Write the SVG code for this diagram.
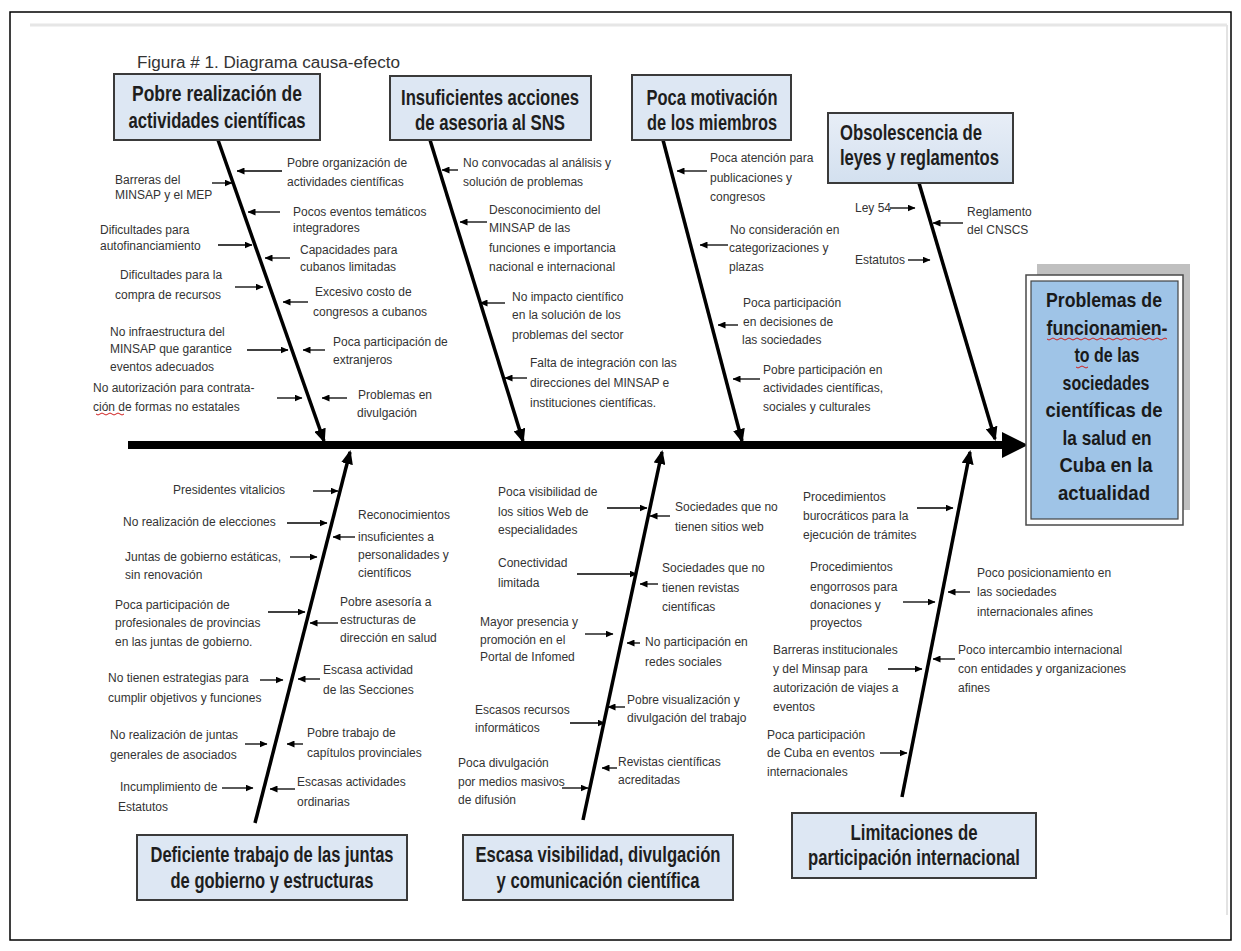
<svg xmlns="http://www.w3.org/2000/svg" width="1241" height="951" viewBox="0 0 1241 951">
<defs>
<style>
.box{fill:#dde7f3;stroke:#3a3a3a;stroke-width:2}
.bt{font-family:"Liberation Sans",Arial,sans-serif;font-weight:bold;font-size:22px;fill:#1e1e1e;text-anchor:middle}
.et{font-family:"Liberation Sans",Arial,sans-serif;font-weight:bold;font-size:21px;fill:#1a1a1a;text-anchor:middle}
.t{font-family:"Liberation Sans",Arial,sans-serif;font-size:12px;fill:#333}
.bone{stroke:#000;stroke-width:3.5;fill:none;marker-end:url(#bh)}
.sa{stroke:#000;stroke-width:1.3;fill:none;marker-end:url(#sh)}
.sq{stroke:#d02020;stroke-width:1;fill:none}
</style>
<marker id="bh" markerUnits="userSpaceOnUse" markerWidth="14" markerHeight="12" refX="12" refY="6" orient="auto"><path d="M0,0 L14,6 L0,12 z" fill="#000"/></marker>
<marker id="sh" markerUnits="userSpaceOnUse" markerWidth="8" markerHeight="7" refX="7.5" refY="3.5" orient="auto"><path d="M0,0 L8,3.5 L0,7 z" fill="#000"/></marker>
<linearGradient id="g4" x1="0" y1="0" x2="0" y2="1"><stop offset="0" stop-color="#e8eef7"/><stop offset="1" stop-color="#d3e0ef"/></linearGradient>
</defs>
<rect x="0" y="0" width="1241" height="951" fill="#fff"/>
<rect x="10" y="12" width="1221" height="928" fill="none" stroke="#000" stroke-width="1.5"/>
<line x1="30" y1="25" x2="1227" y2="25" stroke="#e6e6e6" stroke-width="3"/>
<line x1="1227" y1="25" x2="1227" y2="915" stroke="#e3e3e3" stroke-width="2"/>
<text x="137" y="68" font-family="Liberation Sans, Arial, sans-serif" font-size="16" fill="#333" textLength="263" lengthAdjust="spacingAndGlyphs">Figura # 1. Diagrama causa-efecto</text>

<g id="connectors">
<line x1="128" y1="445" x2="1004" y2="445" stroke="#000" stroke-width="8"/>
<polygon points="1002,432 1028,445 1002,458" fill="#000"/>
<line class="bone" x1="218" y1="140" x2="324" y2="441"/>
<line class="bone" x1="430" y1="140" x2="523" y2="441"/>
<line class="bone" x1="663" y1="140" x2="742" y2="441"/>
<line class="bone" x1="919" y1="183" x2="995" y2="439"/>
<line class="bone" x1="255" y1="823" x2="350" y2="452"/>
<line class="bone" x1="583" y1="820" x2="662" y2="452"/>
<line class="bone" x1="902" y1="797" x2="970" y2="452"/>
</g>

<g id="node-box1">
<rect class="box" x="114" y="74" width="206" height="66"/>
<text class="bt" x="217" y="101" textLength="170" lengthAdjust="spacingAndGlyphs">Pobre realización de</text>
<text class="bt" x="217" y="128" textLength="177" lengthAdjust="spacingAndGlyphs">actividades científicas</text>
</g>
<g id="node-box2">
<rect class="box" x="390" y="76" width="201" height="64"/>
<text class="bt" x="490" y="105" textLength="178" lengthAdjust="spacingAndGlyphs">Insuficientes acciones</text>
<text class="bt" x="490" y="130" textLength="150" lengthAdjust="spacingAndGlyphs">de asesoria al SNS</text>
</g>
<g id="node-box3">
<rect class="box" x="632" y="75" width="159" height="65"/>
<text class="bt" x="712" y="105" textLength="131" lengthAdjust="spacingAndGlyphs">Poca motivación</text>
<text class="bt" x="712" y="130" textLength="130" lengthAdjust="spacingAndGlyphs">de los miembros</text>
</g>
<g id="node-box4">
<rect x="828" y="113" width="185" height="70" fill="url(#g4)" stroke="#3a3a3a" stroke-width="2"/>
<text class="bt" x="840" y="140" text-anchor="start" style="text-anchor:start" textLength="142" lengthAdjust="spacingAndGlyphs">Obsolescencia de</text>
<text class="bt" x="840" y="165" style="text-anchor:start" textLength="159" lengthAdjust="spacingAndGlyphs">leyes y reglamentos</text>
</g>
<g id="node-effect">
<rect x="1037" y="264" width="153" height="246" fill="#c0c0c0"/>
<rect x="1026" y="275" width="157" height="250" fill="#fff" stroke="#4a4a4a" stroke-width="1.5"/>
<rect x="1031" y="281" width="147" height="238" fill="#9fc4e7" stroke="#444" stroke-width="1.2"/>
<text class="et" x="1104" y="307" textLength="116" lengthAdjust="spacingAndGlyphs">Problemas de</text>
<text class="et" x="1107" y="335" textLength="121" lengthAdjust="spacingAndGlyphs">funcionamien-</text>
<text class="et" x="1107" y="362" textLength="65" lengthAdjust="spacingAndGlyphs">to de las</text>
<text class="et" x="1106" y="390" textLength="87" lengthAdjust="spacingAndGlyphs">sociedades</text>
<text class="et" x="1104" y="417" textLength="117" lengthAdjust="spacingAndGlyphs">científicas de</text>
<text class="et" x="1107" y="445" textLength="89" lengthAdjust="spacingAndGlyphs">la salud en</text>
<text class="et" x="1106" y="472" textLength="93" lengthAdjust="spacingAndGlyphs">Cuba en la</text>
<text class="et" x="1104" y="500" textLength="92" lengthAdjust="spacingAndGlyphs">actualidad</text>
<path class="sq" d="M1047,339 q2,2 4,0 t4,0 t4,0 t4,0 t4,0 t4,0 t4,0 t4,0 t4,0 t4,0 t4,0 t4,0 t4,0 t4,0 t4,0 t4,0 t4,0 t4,0 t4,0 t4,0 t4,0 t4,0 t4,0 t4,0 t4,0 t4,0 t4,0 t4,0 t4,0 t4,0"/>
<path class="sq" d="M1076,367 q2,2 4,0 t4,0 t4,0"/>
</g>
<g id="node-box5">
<rect class="box" x="137" y="835" width="270" height="65"/>
<text class="bt" x="272" y="862" textLength="243" lengthAdjust="spacingAndGlyphs">Deficiente trabajo de las juntas</text>
<text class="bt" x="272" y="888" textLength="203" lengthAdjust="spacingAndGlyphs">de gobierno y estructuras</text>
</g>
<g id="node-box6">
<rect class="box" x="463" y="835" width="270" height="65"/>
<text class="bt" x="598" y="862" textLength="245" lengthAdjust="spacingAndGlyphs">Escasa visibilidad, divulgación</text>
<text class="bt" x="598" y="888" textLength="203" lengthAdjust="spacingAndGlyphs">y comunicación científica</text>
</g>
<g id="node-box7">
<rect class="box" x="792" y="813" width="244" height="65"/>
<text class="bt" x="914" y="840" textLength="127" lengthAdjust="spacingAndGlyphs">Limitaciones de</text>
<text class="bt" x="914" y="865" textLength="212" lengthAdjust="spacingAndGlyphs">participación internacional</text>
</g>

<g id="causes-1">
<text class="t"><tspan x="115" y="184">Barreras del</tspan><tspan x="115" y="199">MINSAP y el MEP</tspan></text>
<line class="sa" x1="212" y1="183" x2="232" y2="183"/>
<text class="t"><tspan x="100" y="234">Dificultades para</tspan><tspan x="100" y="250">autofinanciamiento</tspan></text>
<line class="sa" x1="218" y1="245" x2="252" y2="245"/>
<text class="t"><tspan x="120" y="279">Dificultades para la</tspan><tspan x="115" y="299">compra de recursos</tspan></text>
<line class="sa" x1="235" y1="287" x2="263" y2="287"/>
<text class="t"><tspan x="110" y="336">No infraestructura del</tspan><tspan x="110" y="353">MINSAP que garantice</tspan><tspan x="110" y="371">eventos adecuados</tspan></text>
<line class="sa" x1="247" y1="350" x2="288" y2="350"/>
<text class="t"><tspan x="93" y="392">No autorización para contrata-</tspan><tspan x="93" y="411">ción de formas no estatales</tspan></text>
<path class="sq" d="M96,414 q2,2 4,0 t4,0 t4,0 t4,0 t4,0 t4,0 t4,0"/>
<line class="sa" x1="277" y1="398" x2="302" y2="398"/>
<text class="t"><tspan x="287" y="167">Pobre organización de</tspan><tspan x="287" y="186">actividades científicas</tspan></text>
<line class="sa" x1="282" y1="171" x2="237" y2="171"/>
<text class="t"><tspan x="293" y="216">Pocos eventos temáticos</tspan><tspan x="293" y="232">integradores</tspan></text>
<line class="sa" x1="280" y1="212" x2="248" y2="212"/>
<text class="t"><tspan x="300" y="254">Capacidades para</tspan><tspan x="300" y="271">cubanos limitadas</tspan></text>
<line class="sa" x1="290" y1="258" x2="265" y2="258"/>
<text class="t"><tspan x="315" y="296">Excesivo costo de</tspan><tspan x="313" y="316">congresos a cubanos</tspan></text>
<line class="sa" x1="308" y1="302" x2="283" y2="302"/>
<text class="t"><tspan x="333" y="346">Poca participación de</tspan><tspan x="333" y="364">extranjeros</tspan></text>
<line class="sa" x1="325" y1="350" x2="303" y2="350"/>
<text class="t"><tspan x="358" y="399">Problemas en</tspan><tspan x="357" y="417">divulgación</tspan></text>
<line class="sa" x1="347" y1="398" x2="322" y2="398"/>
</g>

<g id="causes-2">
<text class="t"><tspan x="463" y="167">No convocadas al análisis y</tspan><tspan x="463" y="186">solución de problemas</tspan></text>
<line class="sa" x1="458" y1="170" x2="442" y2="170"/>
<text class="t"><tspan x="489" y="214">Desconocimiento del</tspan><tspan x="489" y="232">MINSAP de las</tspan><tspan x="489" y="252">funciones e importancia</tspan><tspan x="489" y="271">nacional e internacional</tspan></text>
<line class="sa" x1="487" y1="222" x2="460" y2="222"/>
<text class="t"><tspan x="512" y="301">No impacto científico</tspan><tspan x="512" y="319">en la solución de los</tspan><tspan x="512" y="339">problemas del sector</tspan></text>
<line class="sa" x1="505" y1="303" x2="480" y2="303"/>
<text class="t"><tspan x="530" y="367">Falta de integración con las</tspan><tspan x="530" y="387">direcciones del MINSAP e</tspan><tspan x="530" y="407">instituciones científicas.</tspan></text>
<line class="sa" x1="527" y1="378" x2="505" y2="378"/>
</g>

<g id="causes-3">
<text class="t"><tspan x="710" y="162">Poca atención para</tspan><tspan x="710" y="182">publicaciones y</tspan><tspan x="710" y="201">congresos</tspan></text>
<line class="sa" x1="707" y1="171" x2="677" y2="171"/>
<text class="t"><tspan x="730" y="234">No consideración en</tspan><tspan x="729" y="252">categorizaciones y</tspan><tspan x="729" y="271">plazas</tspan></text>
<line class="sa" x1="728" y1="245" x2="700" y2="245"/>
<text class="t"><tspan x="743" y="307">Poca participación</tspan><tspan x="743" y="326">en decisiones de</tspan><tspan x="742" y="344">las sociedades</tspan></text>
<line class="sa" x1="738" y1="325" x2="718" y2="325"/>
<text class="t"><tspan x="763" y="374">Pobre participación en</tspan><tspan x="763" y="392">actividades científicas,</tspan><tspan x="763" y="411">sociales y culturales</tspan></text>
<line class="sa" x1="760" y1="379" x2="733" y2="379"/>
</g>

<g id="causes-4">
<text class="t" x="855" y="212">Ley 54</text>
<line class="sa" x1="890" y1="208" x2="915" y2="208"/>
<text class="t"><tspan x="967" y="216">Reglamento</tspan><tspan x="967" y="234">del CNSCS</tspan></text>
<line class="sa" x1="963" y1="223" x2="933" y2="223"/>
<text class="t" x="855" y="264">Estatutos</text>
<line class="sa" x1="908" y1="260" x2="930" y2="260"/>
</g>

<g id="causes-5">
<text class="t" x="173" y="494">Presidentes vitalicios</text>
<line class="sa" x1="313" y1="491" x2="338" y2="491"/>
<text class="t" x="123" y="526">No realización de elecciones</text>
<line class="sa" x1="287" y1="523" x2="327" y2="523"/>
<text class="t"><tspan x="125" y="561">Juntas  de gobierno estáticas,</tspan><tspan x="125" y="579">sin renovación</tspan></text>
<line class="sa" x1="290" y1="557" x2="317" y2="557"/>
<text class="t"><tspan x="115" y="609">Poca participación de</tspan><tspan x="115" y="627">profesionales de provincias</tspan><tspan x="115" y="646">en las juntas de gobierno.</tspan></text>
<line class="sa" x1="268" y1="612" x2="305" y2="612"/>
<text class="t"><tspan x="108" y="682">No tienen estrategias para</tspan><tspan x="108" y="702">cumplir objetivos y funciones</tspan></text>
<line class="sa" x1="260" y1="680" x2="283" y2="680"/>
<text class="t"><tspan x="110" y="739">No realización de juntas</tspan><tspan x="110" y="759">generales de asociados</tspan></text>
<line class="sa" x1="245" y1="744" x2="267" y2="744"/>
<text class="t"><tspan x="120" y="791">Incumplimiento de</tspan><tspan x="118" y="811">Estatutos</tspan></text>
<line class="sa" x1="222" y1="788" x2="253" y2="788"/>
<text class="t"><tspan x="358" y="519">Reconocimientos</tspan><tspan x="358" y="541">insuficientes a</tspan><tspan x="358" y="559">personalidades y</tspan><tspan x="358" y="577">científicos</tspan></text>
<line class="sa" x1="355" y1="537" x2="333" y2="537"/>
<text class="t"><tspan x="340" y="606">Pobre asesoría a</tspan><tspan x="340" y="624">estructuras de</tspan><tspan x="340" y="642">dirección en salud</tspan></text>
<line class="sa" x1="338" y1="623" x2="310" y2="623"/>
<text class="t"><tspan x="323" y="674">Escasa actividad</tspan><tspan x="323" y="694">de las Secciones</tspan></text>
<line class="sa" x1="320" y1="679" x2="298" y2="679"/>
<text class="t"><tspan x="307" y="737">Pobre  trabajo de</tspan><tspan x="307" y="757">capítulos provinciales</tspan></text>
<line class="sa" x1="303" y1="744" x2="287" y2="744"/>
<text class="t"><tspan x="297" y="786">Escasas actividades</tspan><tspan x="297" y="806">ordinarias</tspan></text>
<line class="sa" x1="295" y1="789" x2="270" y2="789"/>
</g>

<g id="causes-6">
<text class="t"><tspan x="498" y="496">Poca visibilidad de</tspan><tspan x="498" y="516">los sitios Web de</tspan><tspan x="498" y="534">especialidades</tspan></text>
<line class="sa" x1="607" y1="508" x2="647" y2="508"/>
<text class="t"><tspan x="498" y="567">Conectividad</tspan><tspan x="498" y="587">limitada</tspan></text>
<line class="sa" x1="577" y1="574" x2="637" y2="574"/>
<text class="t"><tspan x="480" y="626">Mayor presencia y</tspan><tspan x="480" y="644">promoción en el</tspan><tspan x="480" y="661">Portal de Infomed</tspan></text>
<line class="sa" x1="585" y1="634" x2="613" y2="634"/>
<text class="t"><tspan x="475" y="714">Escasos recursos</tspan><tspan x="475" y="732">informáticos</tspan></text>
<line class="sa" x1="570" y1="723" x2="605" y2="723"/>
<text class="t"><tspan x="458" y="767">Poca divulgación</tspan><tspan x="458" y="786">por medios masivos</tspan><tspan x="458" y="804">de difusión</tspan></text>
<line class="sa" x1="562" y1="788" x2="588" y2="788"/>
<text class="t"><tspan x="675" y="511">Sociedades que no</tspan><tspan x="675" y="531">tienen sitios web</tspan></text>
<line class="sa" x1="670" y1="516" x2="650" y2="516"/>
<text class="t"><tspan x="662" y="572">Sociedades que no</tspan><tspan x="662" y="592">tienen revistas</tspan><tspan x="662" y="611">científicas</tspan></text>
<line class="sa" x1="658" y1="584" x2="640" y2="584"/>
<text class="t"><tspan x="645" y="646">No participación en</tspan><tspan x="645" y="666">redes sociales</tspan></text>
<line class="sa" x1="640" y1="643" x2="627" y2="643"/>
<text class="t"><tspan x="627" y="704">Pobre visualización  y</tspan><tspan x="627" y="722">divulgación del trabajo</tspan></text>
<line class="sa" x1="625" y1="707" x2="608" y2="707"/>
<text class="t"><tspan x="618" y="766">Revistas científicas</tspan><tspan x="618" y="784">acreditadas</tspan></text>
<line class="sa" x1="617" y1="768" x2="602" y2="768"/>
</g>

<g id="causes-7">
<text class="t"><tspan x="803" y="501">Procedimientos</tspan><tspan x="803" y="520">burocráticos para la</tspan><tspan x="803" y="539">ejecución de trámites</tspan></text>
<line class="sa" x1="917" y1="508" x2="953" y2="508"/>
<text class="t"><tspan x="810" y="571">Procedimientos</tspan><tspan x="810" y="591">engorrosos para</tspan><tspan x="810" y="609">donaciones y</tspan><tspan x="810" y="627">proyectos</tspan></text>
<line class="sa" x1="903" y1="602" x2="935" y2="602"/>
<text class="t"><tspan x="773" y="654">Barreras institucionales</tspan><tspan x="773" y="673">y del Minsap para</tspan><tspan x="773" y="692">autorización de viajes a</tspan><tspan x="773" y="711">eventos</tspan></text>
<line class="sa" x1="888" y1="669" x2="922" y2="669"/>
<text class="t"><tspan x="767" y="739">Poca participación</tspan><tspan x="767" y="757">de Cuba en eventos</tspan><tspan x="767" y="776">internacionales</tspan></text>
<line class="sa" x1="880" y1="753" x2="907" y2="753"/>
<text class="t"><tspan x="977" y="577">Poco posicionamiento en</tspan><tspan x="977" y="596">las sociedades</tspan><tspan x="977" y="616">internacionales afines</tspan></text>
<line class="sa" x1="970" y1="592" x2="948" y2="592"/>
<text class="t"><tspan x="958" y="654">Poco intercambio internacional</tspan><tspan x="958" y="673">con entidades y organizaciones</tspan><tspan x="958" y="692">afines</tspan></text>
<line class="sa" x1="955" y1="659" x2="933" y2="659"/>
</g>
</svg>
